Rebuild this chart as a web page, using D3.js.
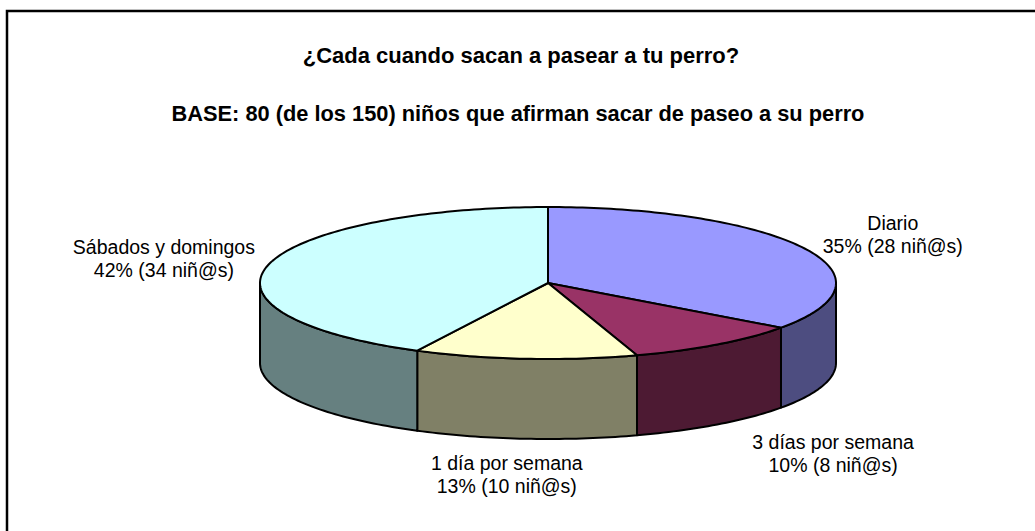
<!DOCTYPE html>
<html>
<head>
<meta charset="utf-8">
<script src="https://cdn.jsdelivr.net/npm/d3@7"></script>
<style>
  body { margin: 0; background: #fff; }
  text { font-family: "Liberation Sans", Arial, sans-serif; fill: #000; }
</style>
</head>
<body id="body">
<script>
// datos del grafico
var categorias = ["Diario", "3 días por semana", "1 día por semana", "Sábados y domingos"];
var ninos = [28, 8, 10, 34];
var porcentajes = ["35%", "10%", "13%", "42%"];
var titulo = "¿Cada cuando sacan a pasear a tu perro?";
var subtitulo = "BASE: 80 (de los 150) niños que afirman sacar de paseo a su perro";

// colores: cara superior y lateral
var colorTop = ["#9999FF", "#993366", "#FFFFCC", "#CCFFFF"];
var colorSide = ["#4D4D80", "#4D1A33", "#808066", "#668080"];

var width = 1035, height = 531;
var cx = 548, cy = 283, rx = 288, ry = 76, depth = 80;
// radios horizontales de las etiquetas (layout)
var labelRx = [387, 485, 525, 395];
var labelRy = 110;

var svg = d3.select("body").append("svg")
    .attr("width", width)
    .attr("height", height);

svg.append("rect")
    .attr("x", 7).attr("y", 11)
    .attr("width", width).attr("height", height)
    .attr("fill", "none")
    .attr("stroke", "#000")
    .attr("stroke-width", 2.5);

svg.append("text")
    .attr("x", 521).attr("y", 63)
    .attr("text-anchor", "middle")
    .style("font-size", "22px").style("font-weight", "bold")
    .text(titulo);

svg.append("text")
    .attr("x", 518).attr("y", 121)
    .attr("text-anchor", "middle")
    .style("font-size", "21.8px").style("font-weight", "bold")
    .text(subtitulo);

var data = categorias.map(function (c, i) {
    return { cat: c, value: ninos[i], pct: porcentajes[i], i: i };
});

var pie = d3.pie()
    .sort(null)
    .value(function (d) { return d.value; });

var arcs = pie(data);

function px(t, dy) { return [cx + rx * Math.sin(t), cy - ry * Math.cos(t) + (dy || 0)]; }

function ringPoints(a, b, dy) {
    var n = Math.max(2, Math.ceil(Math.abs(b - a) / 0.02));
    return d3.range(n + 1).map(function (k) { return px(a + (b - a) * k / n, dy); });
}

var line = d3.line();

// lados visibles (mitad frontal: de PI/2 a 3PI/2)
var sides = svg.append("g");
arcs.forEach(function (d) {
    var a = Math.max(d.startAngle, Math.PI / 2),
        b = Math.min(d.endAngle, 3 * Math.PI / 2);
    if (b <= a) return;
    var pts = ringPoints(a, b, 0).concat(ringPoints(b, a, depth));
    sides.append("path")
        .attr("d", line(pts) + "Z")
        .attr("fill", colorSide[d.data.i])
        .attr("stroke", "#000")
        .attr("stroke-width", 2)
        .attr("stroke-linejoin", "round");
});

// caras superiores
var tops = svg.append("g");
arcs.forEach(function (d) {
    var pts = [[cx, cy]].concat(ringPoints(d.startAngle, d.endAngle, 0));
    tops.append("path")
        .attr("d", line(pts) + "Z")
        .attr("fill", colorTop[d.data.i])
        .attr("stroke", "#000")
        .attr("stroke-width", 2)
        .attr("stroke-linejoin", "round");
});

// etiquetas
arcs.forEach(function (d) {
    var m = (d.startAngle + d.endAngle) / 2;
    var x = cx + Math.sin(m) * labelRx[d.data.i];
    var y = cy - Math.cos(m) * labelRy + (Math.cos(m) < 0 ? depth : 0);
    var t = svg.append("text")
        .attr("text-anchor", "middle")
        .style("font-size", "19.5px");
    t.append("tspan").attr("x", x).attr("y", y - 3).text(d.data.cat);
    t.append("tspan").attr("x", x).attr("y", y + 20).text(d.data.pct + " (" + d.data.value + " niñ@s)");
});
</script>
</body>
</html>
